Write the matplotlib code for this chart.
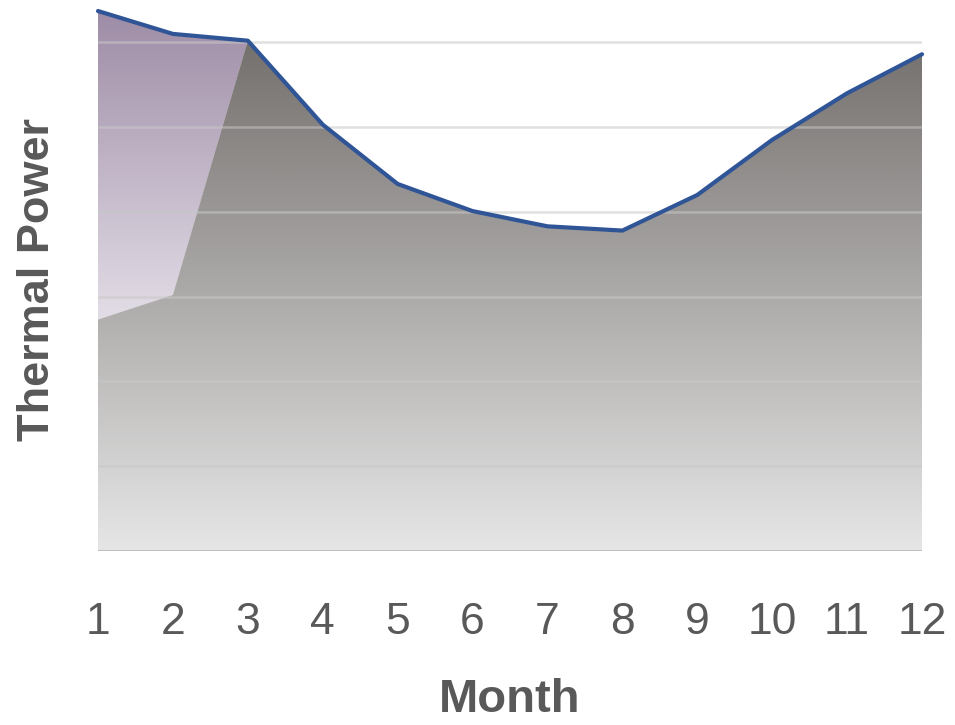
import numpy as np
import matplotlib
matplotlib.use("Agg")
import matplotlib.pyplot as plt
from matplotlib.colors import LinearSegmentedColormap
from matplotlib.patches import Polygon

months = [1, 2, 3, 4, 5, 6, 7, 8, 9, 10, 11, 12]
upper_series = [6.37, 6.10, 6.02, 5.03, 4.33, 4.01, 3.83, 3.78, 4.20, 4.85, 5.40, 5.86]
lower_series = [2.73, 3.02, 6.02, 5.03, 4.33, 4.01, 3.83, 3.78, 4.20, 4.85, 5.40, 5.86]
x_labels = [str(m) for m in months]

FONT = ["Liberation Sans Narrow", "Liberation Sans", "DejaVu Sans"]
TEXT_COLOR = "#595959"

fig = plt.figure(figsize=(9.55, 7.25), dpi=100)
ax = fig.add_axes([98 / 955, 1 - 551 / 725, (922 - 98) / 955, 551 / 725])
ymax = 6.5


def gradient_fill(ax, x, y, top_rgb, bottom_rgb, bottom_val, top_val, zorder):
    cmap = LinearSegmentedColormap.from_list(
        "g", [np.array(bottom_rgb) / 255, np.array(top_rgb) / 255])
    grad = np.linspace(0, 1, 256).reshape(-1, 1)
    im = ax.imshow(grad, cmap=cmap, aspect="auto", origin="lower",
                   extent=[x[0], x[-1], bottom_val, top_val], zorder=zorder,
                   interpolation="bilinear")
    verts = [(x[0], 0)] + list(zip(x, y)) + [(x[-1], 0)]
    poly = Polygon(verts, closed=True, facecolor=np.array(bottom_rgb) / 255,
                   edgecolor="none", transform=ax.transData, zorder=zorder - 0.5)
    ax.add_patch(poly)
    im.set_clip_path(poly)


gradient_fill(ax, months, upper_series, (158, 140, 166), (240, 237, 243),
              2.0, max(upper_series), 1)
gradient_fill(ax, months, lower_series, (116, 112, 110), (230, 230, 230),
              0.0, max(lower_series), 2)
ax.set_xlim(1, 12)
ax.set_ylim(0, ymax)

# horizontal gridlines drawn lightly across the areas
for g in range(1, 7):
    ax.axhline(g, color="#c8c8c8", lw=1.8, alpha=0.55, zorder=3)
ax.axhline(0, color="#bfbfbf", lw=2.2, zorder=3)

ax.plot(months, upper_series, color="#2f5597", lw=3, zorder=5,
        solid_joinstyle="round", solid_capstyle="round", clip_on=False)

for s in ax.spines.values():
    s.set_visible(False)
ax.set_yticks([])
ax.set_xticks(months)
ax.set_xticklabels(x_labels, fontsize=32, color=TEXT_COLOR, family=FONT)
ax.tick_params(axis="x", length=0, pad=37)

ax.set_xlabel("Month", fontsize=34, fontweight="bold", color=TEXT_COLOR,
              family=FONT, labelpad=25)
fig.text(38 / 955, 1 - 279 / 725, "Thermal Power", rotation=90, fontsize=32.5,
         fontweight="bold", color=TEXT_COLOR, family=FONT,
         ha="center", va="center")

fig.savefig("out.png", dpi=100)
